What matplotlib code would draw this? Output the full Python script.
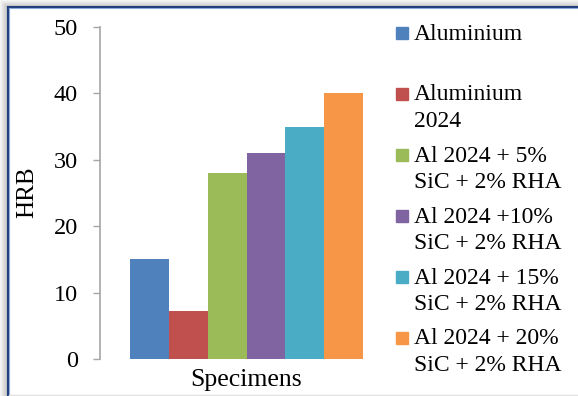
import matplotlib
matplotlib.use("Agg")
import matplotlib.pyplot as plt
from matplotlib.patches import Rectangle

# data
labels = ["Aluminium", "Aluminium\n2024", "Al 2024 + 5%\nSiC + 2% RHA",
          "Al 2024 +10%\nSiC + 2% RHA", "Al 2024 + 15%\nSiC + 2% RHA",
          "Al 2024 + 20%\nSiC + 2% RHA"]
hrb = [15, 7.2, 28, 31, 35, 40]
colors = ["#4F81BD", "#C0504D", "#9BBB59", "#8064A2", "#4BACC6", "#F79646"]
yticks = [0, 10, 20, 30, 40, 50]

plt.rcParams['font.family'] = ['Liberation Serif', 'DejaVu Serif']

W, H = 578, 396
fig = plt.figure(figsize=(W/100, H/100), dpi=100)
ax = fig.add_axes([100/W, 1-359/H, 293/W, 332/H])

n = len(hrb)
w = 1.0
xs = [(i - (n-1)/2) * w for i in range(n)]
ax.bar(xs, hrb, width=w, color=colors, edgecolor='none')
half = n*w/2/0.795
ax.set_xlim(-half, half)
ax.set_ylim(0, 50)
ax.set_yticks(yticks)
ax.set_yticklabels([str(t) for t in yticks], fontsize=17.5)
ax.set_xticks([])
ax.tick_params(axis='y', direction='out', length=5, width=1, color='#A6A6A6', pad=11)
for s in ['top', 'right', 'bottom']:
    ax.spines[s].set_visible(False)
ax.spines['left'].set_color('#A6A6A6')
ax.spines['left'].set_linewidth(1.2)
fig.text(27/W, 1-192/H, "HRB", fontsize=18, rotation=90, ha='center', va='center')
fig.text(246.5/W, 1-380/H, "Specimens", fontsize=18.5, ha='center', va='center')

# legend drawn by hand, Excel-style even spacing
for i, (lab, col) in enumerate(zip(labels, colors)):
    yc = 32.5 + 61*i
    fig.add_artist(Rectangle((396/W, 1-(yc+6)/H), 12/W, 12/H, color=col,
                             transform=fig.transFigure))
    fig.text(414/W, 1-(yc-9)/H, lab, fontsize=17, va='top', ha='left',
             linespacing=1.32)

# chart frame with shadow
for k in range(7):
    g = 0.97 - 0.03*k
    fig.add_artist(Rectangle((k/W, 0), 1/W, 1-k/H, color=(g, g, g),
                             transform=fig.transFigure, zorder=0))
    fig.add_artist(Rectangle((k/W, 1-(k+1)/H), 1-k/W, 1/H, color=(g, g, g),
                             transform=fig.transFigure, zorder=0))
fig.add_artist(plt.Line2D([7.5/W, 7.5/W], [0, 1-6.5/H], color='#1F3E7A', lw=1.5,
                          transform=fig.transFigure))
fig.add_artist(plt.Line2D([7.5/W, 1], [1-6.5/H, 1-6.5/H], color='#1F3E7A', lw=1.5,
                          transform=fig.transFigure))
fig.add_artist(plt.Line2D([9/W, 9/W], [0, 1-8/H], color='#8EA9DB', lw=0.8,
                          transform=fig.transFigure))
fig.add_artist(plt.Line2D([9/W, 1], [1-8/H, 1-8/H], color='#8EA9DB', lw=0.8,
                          transform=fig.transFigure))
fig.add_artist(plt.Line2D([9/W, 1], [1.5/H, 1.5/H], color='#E0E0E0', lw=1,
                          transform=fig.transFigure))

fig.savefig("out.png", dpi=100)
